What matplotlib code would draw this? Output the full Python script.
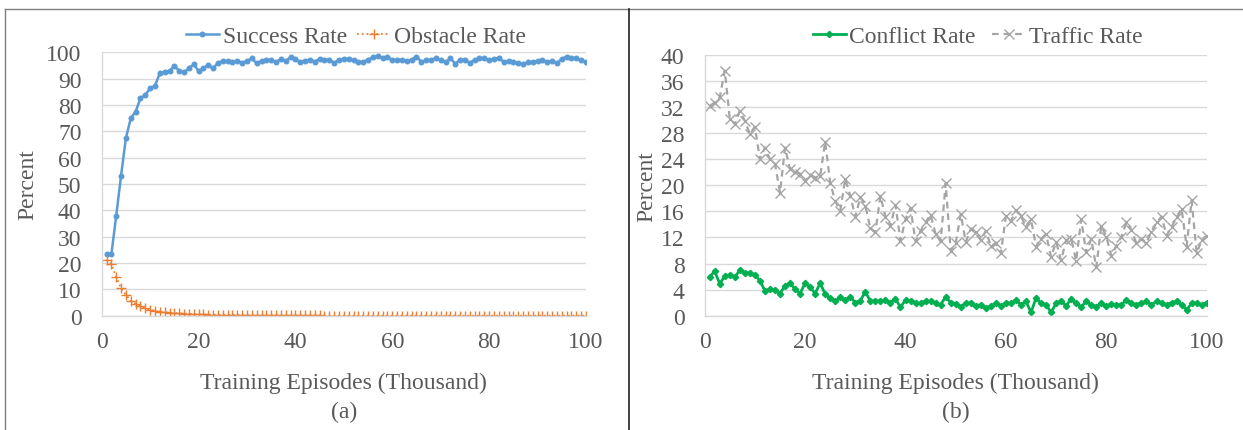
import matplotlib
matplotlib.use("Agg")
import matplotlib.pyplot as plt
from matplotlib.lines import Line2D

plt.rcParams['font.family'] = ['Liberation Serif', 'DejaVu Serif']

episodes = list(range(1, 101))

success_rate = [23.3, 23.3, 38.0, 53.2, 67.5, 74.9, 77.5, 82.5, 83.8, 86.3,
                87.3, 92.1, 92.6, 93.0, 94.8, 93.0, 92.4, 93.9, 95.4, 92.9,
                94.0, 95.2, 93.9, 96.0, 96.7, 96.7, 96.5, 96.7, 96.0, 96.7,
                97.7, 95.8, 96.7, 97.1, 97.2, 96.2, 97.5, 96.7, 98.1, 97.5,
                96.2, 96.8, 97.2, 96.5, 97.5, 97.2, 97.2, 96.0, 97.2, 97.5,
                97.5, 97.0, 96.4, 96.4, 97.2, 98.1, 98.7, 97.7, 98.1, 97.2,
                97.0, 97.2, 96.7, 97.2, 98.4, 96.4, 97.0, 97.2, 97.7, 97.0,
                96.2, 97.7, 95.7, 97.2, 97.2, 95.9, 97.2, 97.7, 97.7, 97.2,
                97.5, 97.9, 96.4, 96.7, 96.4, 95.9, 95.4, 96.2, 96.4, 96.7,
                97.0, 96.4, 96.7, 95.9, 97.5, 98.4, 97.9, 97.7, 97.0, 96.4]

obstacle_rate = [21.3, 19.6, 14.6, 10.4, 7.9, 5.7, 4.5, 3.6, 2.8, 2.2,
                 1.8, 1.5, 1.3, 1.1, 1.0, 0.9, 0.8, 0.7, 0.6, 0.5,
                 0.5, 0.4, 0.4, 0.3, 0.3, 0.3, 0.2, 0.2, 0.2, 0.2,
                 0.1, 0.1, 0.1, 0.1, 0.1, 0.1, 0.1, 0.1, 0.1, 0.1,
                 0.1, 0.1, 0.1, 0.1, 0.1, 0.0, 0.0, 0.0, 0.0, 0.0,
                 0.0, 0.0, 0.0, 0.0, 0.0, 0.0, 0.0, 0.0, 0.0, 0.0,
                 0.0, 0.0, 0.0, 0.0, 0.0, 0.0, 0.0, 0.0, 0.0, 0.0,
                 0.0, 0.0, 0.0, 0.0, 0.0, 0.0, 0.0, 0.0, 0.0, 0.0,
                 0.0, 0.0, 0.0, 0.0, 0.0, 0.0, 0.0, 0.0, 0.0, 0.0,
                 0.0, 0.0, 0.0, 0.0, 0.0, 0.0, 0.0, 0.0, 0.0, 0.0]

conflict_rate = [6.0, 6.8, 4.9, 6.1, 6.3, 5.9, 7.0, 6.6, 6.6, 6.2,
                 5.4, 3.8, 4.1, 3.9, 3.4, 4.6, 5.0, 4.1, 3.4, 5.0,
                 4.4, 3.4, 5.0, 3.3, 2.7, 2.2, 2.8, 2.4, 2.9, 2.0,
                 2.3, 3.7, 2.2, 2.3, 2.2, 2.4, 2.0, 2.6, 1.3, 2.4,
                 2.3, 2.0, 1.9, 2.3, 2.2, 1.9, 1.7, 2.9, 2.0, 1.85,
                 1.4, 1.9, 2.0, 1.5, 1.7, 1.2, 1.5, 1.9, 1.5, 2.0,
                 1.9, 2.4, 1.7, 2.2, 0.5, 2.7, 1.9, 1.7, 0.5, 1.9,
                 2.3, 1.5, 2.6, 1.9, 1.35, 2.2, 1.7, 1.4, 1.9, 1.5,
                 1.8, 1.7, 1.7, 2.4, 1.9, 1.7, 1.9, 2.2, 1.7, 2.2,
                 1.9, 1.7, 2.0, 2.2, 1.7, 0.9, 1.9, 2.0, 1.7, 2.0]

traffic_rate = [32.2, 32.7, 33.5, 37.6, 30.2, 29.4, 31.4, 29.9, 27.9, 29.0,
                24.0, 25.8, 24.0, 23.3, 18.9, 25.8, 22.5, 22.1, 21.8, 20.6,
                21.6, 21.2, 21.4, 26.7, 20.4, 17.6, 16.1, 21.0, 18.4, 15.2,
                18.2, 16.9, 13.4, 12.8, 18.4, 15.2, 13.8, 17.0, 11.5, 14.8,
                16.5, 11.4, 13.0, 14.3, 15.5, 12.5, 11.4, 20.3, 10.0, 11.1,
                15.6, 11.3, 13.3, 12.8, 11.6, 13.0, 10.7, 11.1, 9.6, 15.3,
                14.5, 16.2, 15.3, 13.6, 14.8, 10.6, 11.8, 12.5, 9.0, 11.3,
                8.5, 11.6, 11.8, 8.4, 14.8, 9.7, 11.8, 7.4, 13.8, 12.1,
                9.2, 10.7, 12.1, 14.3, 13.1, 11.1, 11.8, 11.2, 12.9, 14.3,
                15.2, 12.3, 13.6, 15.1, 16.4, 10.6, 17.7, 9.6, 11.6, 12.3]

x_ticks = [0, 20, 40, 60, 80, 100]
left_yticks = list(range(0, 101, 10))
right_yticks = list(range(0, 41, 4))

TXT = '#595959'
GRID = '#D9D9D9'
FS = 17

W, H = 1243, 431
fig = plt.figure(figsize=(W / 100, H / 100), dpi=100)


def px_axes(x0, x1, ytop, ybot):
    return fig.add_axes([x0 / W, 1 - ybot / H, (x1 - x0) / W, (ybot - ytop) / H])


def style(ax, yticks, ymax, x0, x1, ytop, ybot, tag):
    ax.set_xlim(0, 100)
    ax.set_ylim(0, ymax)
    ax.set_xticks(x_ticks)
    ax.set_yticks(yticks)
    ax.yaxis.grid(True, color=GRID, lw=1)
    ax.set_axisbelow(True)
    for s in ['top', 'right']:
        ax.spines[s].set_visible(False)
    for s in ['left', 'bottom']:
        ax.spines[s].set_color(GRID)
        ax.spines[s].set_linewidth(1)
    ax.tick_params(length=0, labelsize=FS, labelcolor=TXT)
    ax.tick_params(axis='y', pad=14.5)
    ax.tick_params(axis='x', pad=11)
    w = x1 - x0
    h = ybot - ytop
    ax.set_xlabel('Training Episodes (Thousand)', fontsize=FS, color=TXT, va='center')
    ax.xaxis.set_label_coords(0.5, (ybot - 383) / h)
    ax.set_ylabel('Percent', fontsize=FS, color=TXT, va='center')
    return w, h


# Left panel
L = (101.7, 586, 53.3, 316.7)
ax1 = px_axes(*L)
w1, h1 = style(ax1, left_yticks, 100, *L, '(a)')
ax1.yaxis.set_label_coords((28 - L[0]) / w1, 0.5)
ax1.plot(episodes, success_rate, color='#5B9BD5', lw=1.8, marker='o', ms=3.3,
         label='Success Rate')
ax1.plot(episodes, obstacle_rate, color='#ED7D31', lw=1.3, ls=':', marker='+',
         ms=6.5, mew=1.0, label='Obstacle Rate')
ax1.legend(loc='center', bbox_to_anchor=((356 - L[0]) / w1, 1 + 15.6 / h1), ncol=2,
           frameon=False, fontsize=FS, labelcolor=TXT, handlelength=1.4,
           handletextpad=0.15, columnspacing=0.45, borderaxespad=0.0, borderpad=0.0)
ax1.text(0.5, (L[3] - 412) / h1, '(a)', transform=ax1.transAxes, ha='center',
         va='center', fontsize=FS, color=TXT)

# Right panel
R = (704.7, 1206.7, 56, 316.7)
ax2 = px_axes(*R)
w2, h2 = style(ax2, right_yticks, 40, *R, '(b)')
ax2.yaxis.set_label_coords((647 - R[0]) / w2, 0.5)
ax2.plot(episodes, conflict_rate, color='#00B050', lw=2.0, marker='D', ms=3.2,
         label='Conflict Rate')
ax2.plot(episodes, traffic_rate, color='#A5A5A5', lw=1.6, ls=(0, (3, 2.2)),
         marker='x', ms=7, mew=1.0, label='Traffic Rate')
ax2.legend(loc='center', bbox_to_anchor=((977.5 - R[0]) / w2, 1 + 18.3 / h2), ncol=2,
           frameon=False, fontsize=FS, labelcolor=TXT, handlelength=1.4,
           handletextpad=0.15, columnspacing=0.7, borderaxespad=0.0, borderpad=0.0)
ax2.text(0.5, (R[3] - 412) / h2, '(b)', transform=ax2.transAxes, ha='center',
         va='center', fontsize=FS, color=TXT)

# Outer frame lines
fig.add_artist(Line2D([5 / W, 1], [1 - 10 / H, 1 - 10 / H], color='#7F7F7F', lw=1.0))
fig.add_artist(Line2D([5 / W, 5 / W], [0, 1 - 10 / H], color='#7F7F7F', lw=1.0))
fig.add_artist(Line2D([629 / W, 629 / W], [0, 1 - 10 / H], color='#222222', lw=1.2))

fig.savefig('out.png', dpi=100)
